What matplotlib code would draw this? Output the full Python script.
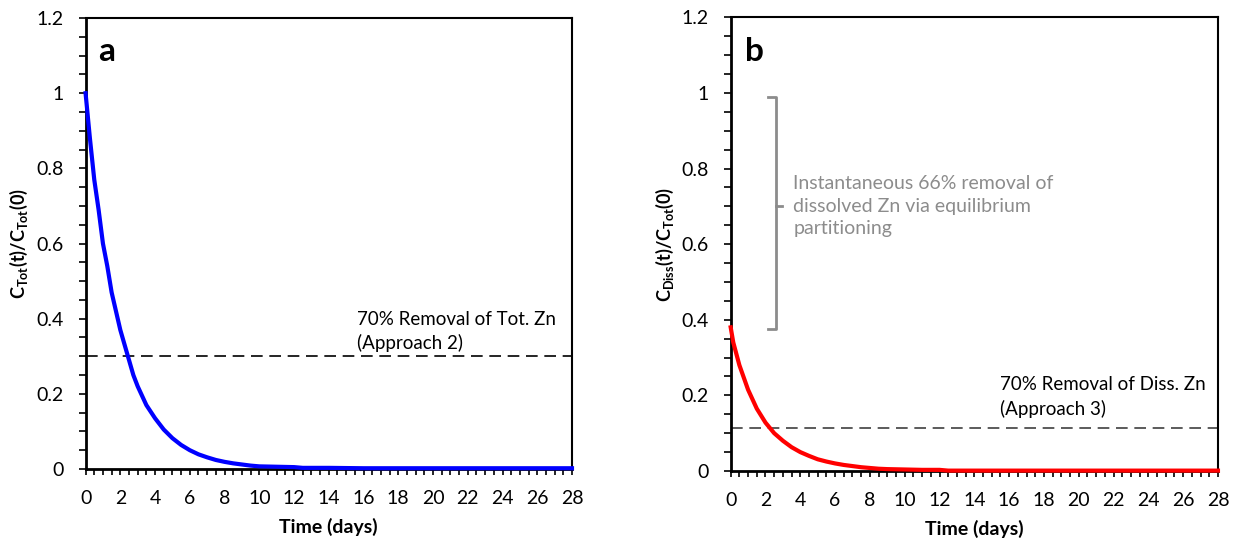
import numpy as np
import matplotlib.pyplot as plt
from matplotlib.ticker import MultipleLocator, FuncFormatter

plt.rcParams['font.family'] = ['Lato', 'DejaVu Sans']
plt.rcParams['mathtext.fontset'] = 'custom'
plt.rcParams['mathtext.rm'] = 'Lato'
plt.rcParams['mathtext.bf'] = 'Lato:bold'

# total Zn, normalised to initial total (panel a)
t_tot = [0, 0.25, 0.5, 0.75, 1, 1.25, 1.5, 1.75, 2, 2.25, 2.5, 2.75, 3, 3.5, 4, 4.5,
         5, 5.5, 6, 6.5, 7, 7.5, 8, 8.5, 9, 9.5, 10, 11, 12, 12.5, 14, 16, 20, 24, 28]
c_tot = [1.0, 0.88, 0.77, 0.69, 0.60, 0.54, 0.47, 0.42, 0.37, 0.33, 0.29, 0.25, 0.22,
         0.17, 0.135, 0.105, 0.082, 0.064, 0.05, 0.039, 0.031, 0.024, 0.019, 0.015,
         0.012, 0.009, 0.007, 0.006, 0.005, 0.003, 0.003, 0.002, 0.002, 0.002, 0.002]

# dissolved Zn, normalised to initial total (panel b)
t_diss = [0, 0.15, 0.5, 1, 1.5, 2, 2.5, 3, 3.5, 4, 4.5, 5, 5.5, 6, 6.5, 7, 7.5, 8,
          8.5, 9, 10, 11, 12, 12.5, 14, 16, 20, 24, 28]
c_diss = [0.38, 0.34, 0.28, 0.215, 0.165, 0.128, 0.10, 0.08, 0.063, 0.05, 0.04, 0.031,
          0.025, 0.02, 0.016, 0.013, 0.01, 0.008, 0.006, 0.005, 0.004, 0.003, 0.003,
          0.001, 0.001, 0.001, 0.001, 0.001, 0.001]

target_tot = 0.3
target_diss = 0.114

fig = plt.figure(figsize=(12.33, 5.42), dpi=100)
ax1 = fig.add_axes([0.0694, 0.1347, 0.3945, 0.832])
ax2 = fig.add_axes([0.5926, 0.131, 0.3952, 0.837])


def style_axes(ax):
    ax.set_xlim(0, 28)
    ax.set_ylim(0, 1.2)
    ax.xaxis.set_major_locator(MultipleLocator(2))
    ax.xaxis.set_minor_locator(MultipleLocator(0.5))
    ax.yaxis.set_major_locator(MultipleLocator(0.2))
    ax.yaxis.set_minor_locator(MultipleLocator(0.05))
    ax.yaxis.set_major_formatter(FuncFormatter(lambda v, p: f'{v:g}'))
    ax.tick_params(which='both', direction='out', length=5, width=1.2, labelsize=14,
                   top=False, right=False)
    ax.tick_params(axis='y', which='both', pad=11)
    ax.tick_params(axis='x', which='both', length=4, pad=11)
    for s in ['left', 'bottom']:
        ax.spines[s].set_linewidth(2.0)
    for s in ['top', 'right']:
        ax.spines[s].set_linewidth(1.5)
    ax.set_xlabel('Time (days)', fontsize=14, fontweight='bold', labelpad=8)


style_axes(ax1)
ax1.plot(t_tot, c_tot, color='#0000ff', lw=3, clip_on=False, zorder=3)
ax1.axhline(target_tot, color='black', lw=1.2, dashes=(7, 4))
ax1.text(0.75, 1.11, 'a', fontsize=24, fontweight='bold', va='center')
ax1.text(15.6, 0.31, '70% Removal of Tot. Zn\n(Approach 2)', fontsize=13.5,
         va='bottom', linespacing=1.45)
ax1.set_ylabel(r'$\mathbf{C_{Tot}(t)/C_{Tot}(0)}$', fontsize=13, labelpad=4)

style_axes(ax2)
ax2.plot(t_diss, c_diss, color='#ff0000', lw=3, clip_on=False, zorder=3)
ax2.axhline(target_diss, color='#404040', lw=1.2, dashes=(7, 4))
ax2.text(0.8, 1.11, 'b', fontsize=24, fontweight='bold', va='center')
ax2.text(15.5, 0.14, '70% Removal of Diss. Zn\n(Approach 3)', fontsize=13.5,
         va='bottom', linespacing=1.45)
ax2.set_ylabel(r'$\mathbf{C_{Diss}(t)/C_{Tot}(0)}$', fontsize=13, labelpad=4)

# bracket marking the instantaneous partitioning drop
bx, bl, bm = 2.6, 2.15, 2.95
top, bot = 0.99, c_diss[0] - 0.005
mid = 0.70
ax2.plot([bl, bx, bx, bl], [top, top, bot, bot], color='#8c8c8c', lw=2)
ax2.plot([bx, bm], [mid, mid], color='#8c8c8c', lw=2)
ax2.text(3.6, mid, 'Instantaneous 66% removal of\ndissolved Zn via equilibrium\npartitioning',
         fontsize=14, color='#8c8c8c', va='center', linespacing=1.4)

fig.savefig('out.png', dpi=100)
